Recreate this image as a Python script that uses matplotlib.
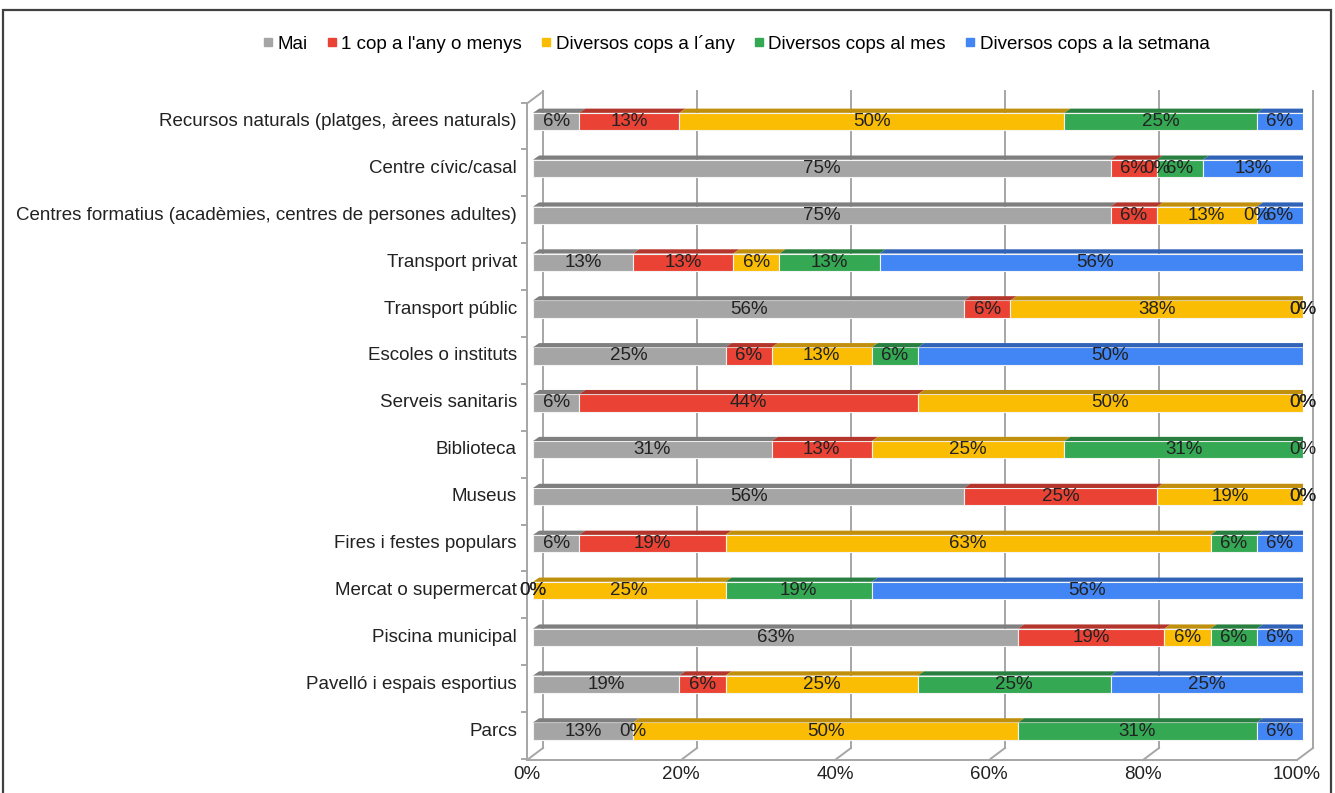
import numpy as np
import matplotlib.pyplot as plt
from matplotlib.patches import Polygon, Rectangle
from matplotlib.lines import Line2D

plt.rcParams['font.family'] = ['Liberation Sans', 'DejaVu Sans']

# rows listed top to bottom
categories = [
    "Recursos naturals (platges, àrees naturals)",
    "Centre cívic/casal",
    "Centres formatius (acadèmies, centres de persones adultes)",
    "Transport privat",
    "Transport públic",
    "Escoles o instituts",
    "Serveis sanitaris",
    "Biblioteca",
    "Museus",
    "Fires i festes populars",
    "Mercat o supermercat",
    "Piscina municipal",
    "Pavelló i espais esportius",
    "Parcs",
]
series = ["Mai", "1 cop a l'any o menys", "Diversos cops a l´any",
          "Diversos cops al mes", "Diversos cops a la setmana"]
mai = [6, 75, 75, 13, 56, 25, 6, 31, 56, 6, 0, 63, 19, 13]
un_cop = [13, 6, 6, 13, 6, 6, 44, 13, 25, 19, 0, 19, 6, 0]
cops_any = [50, 0, 13, 6, 38, 13, 50, 25, 19, 63, 25, 6, 25, 50]
cops_mes = [25, 6, 0, 13, 0, 6, 0, 31, 0, 6, 19, 6, 25, 31]
cops_setmana = [6, 13, 6, 56, 0, 50, 0, 0, 0, 6, 56, 6, 25, 6]
xticks = [0, 20, 40, 60, 80, 100]

front_cols = ["#a5a5a5", "#ea4335", "#fbbc04", "#34a853", "#4285f4"]
top_cols = ["#7f7f7f", "#b3352b", "#c08f0c", "#287f40", "#3063b8"]
side_col = "#2d4f91"

values = np.array([mai, un_cop, cops_any, cops_mes, cops_setmana], dtype=float)
n = len(categories)
y = np.arange(n)[::-1].astype(float)

fig = plt.figure(figsize=(13.35, 7.93), dpi=100)
ax = fig.add_axes([533 / 1335, 1 - 755.5 / 793, 770 / 1335, 656.5 / 793])
ax.set_xlim(0, 100)
ax.set_ylim(-0.52, 13.48)
ax.axis("off")

# 3d depth (x in %, y in category units)
bh = 0.37
ddx, ddy = 0.8, 0.09
fdx, fdy = -0.78, -0.096   # front plane
bdx, bdy = 1.3, 0.16       # back wall
ylo, yhi = -0.52, 13.48
grid_kw = dict(color="#a6a6a6", lw=1.4, clip_on=False, zorder=0)
fs = 13.5

# back wall gridlines and floor
for g in xticks:
    ax.plot([g + bdx, g + bdx], [ylo + bdy, yhi + bdy], **grid_kw)
    ax.plot([g + fdx, g + bdx], [ylo + fdy, ylo + bdy], **grid_kw)
ax.plot([fdx, 100 + fdx], [ylo + fdy, ylo + fdy], **grid_kw)
ax.plot([fdx, fdx], [ylo + fdy, yhi + fdy], **grid_kw)
ax.plot([fdx, bdx], [yhi + fdy, yhi + bdy], **grid_kw)
for k in range(n + 1):
    yk = k - 0.5 + fdy
    ax.plot([fdx - 0.6, fdx], [yk, yk], **grid_kw)

left = np.zeros(n)
for s in range(len(series)):
    w = values[s]
    ax.barh(y, w, left=left, height=bh, color=front_cols[s],
            edgecolor="#f4f4f4", linewidth=0.8, zorder=2)
    for i in range(n):
        l, r = left[i], left[i] + w[i]
        top = y[i] + bh / 2
        ax.add_patch(Polygon([(l, top), (r, top), (r + ddx, top + ddy), (l + ddx, top + ddy)],
                             closed=True, fc=top_cols[s], ec="none", zorder=2))
        ax.text((l + r) / 2, y[i], f"{w[i]:.0f}%", ha="center", va="center",
                fontsize=fs, color="#222222", zorder=4)
    left = left + w

# right end faces
for i in range(n):
    bot, top = y[i] - bh / 2, y[i] + bh / 2
    ax.add_patch(Polygon([(left[i], bot), (left[i], top), (left[i] + ddx, top + ddy),
                          (left[i] + ddx, bot + ddy)],
                         closed=True, fc=side_col, ec="none", zorder=3))

for i, c in enumerate(categories):
    ax.text(fdx - 1.3, y[i], c, ha="right", va="center", fontsize=fs, color="#222222")
for g in xticks:
    ax.text(g + fdx, ylo - 0.4, f"{g}%", ha="center", va="center", fontsize=fs,
            color="#222222")

handles = [Line2D([], [], marker="s", ls="none", markersize=6, color=c) for c in front_cols]
fig.legend(handles, series, loc="center", bbox_to_anchor=(735 / 1335, 1 - 44 / 793),
           ncol=5, frameon=False, fontsize=fs, handletextpad=0.1, columnspacing=0.9,
           handlelength=0.8)

fig.add_artist(Rectangle((3 / 1335, -0.05), 1328 / 1335, 783 / 793 + 0.05,
                         transform=fig.transFigure, fill=False, ec="#404040", lw=1.6))

fig.savefig("out.png", dpi=100)
